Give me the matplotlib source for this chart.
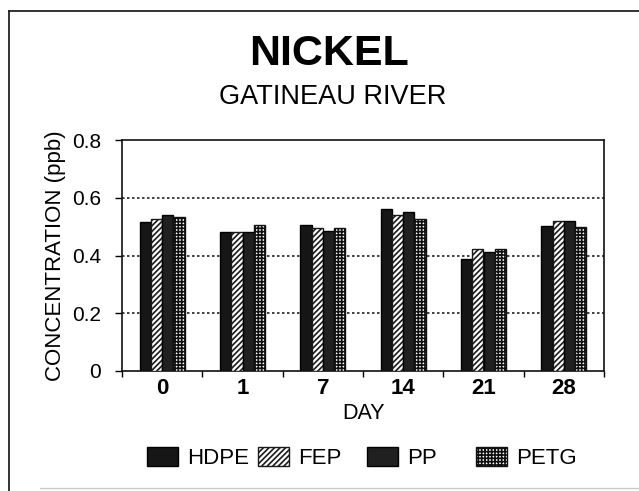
import matplotlib
matplotlib.use("Agg")
import matplotlib.pyplot as plt
import numpy as np
from matplotlib.lines import Line2D

plt.rcParams['font.family'] = ['Liberation Sans', 'DejaVu Sans']
plt.rcParams['hatch.linewidth'] = 1.2

days = ["0", "1", "7", "14", "21", "28"]
hdpe = [0.517, 0.480, 0.506, 0.560, 0.387, 0.502]
fep = [0.526, 0.480, 0.494, 0.540, 0.422, 0.520]
pp = [0.540, 0.480, 0.485, 0.550, 0.413, 0.520]
petg = [0.533, 0.506, 0.494, 0.525, 0.424, 0.500]
series_names = ["HDPE", "FEP", "PP", "PETG"]
yticks = [0, 0.2, 0.4, 0.6, 0.8]
ytick_labels = ["0", "0.2", "0.4", "0.6", "0.8"]

styles = [
    dict(facecolor="#161616", edgecolor="black", hatch=None),
    dict(facecolor="white", edgecolor="#1a1a1a", hatch="//////"),
    dict(facecolor="#202020", edgecolor="black", hatch=None),
    dict(facecolor="white", edgecolor="#111111", hatch="+++++"),
]

fig = plt.figure(figsize=(6.39, 4.91), dpi=100)
ax = fig.add_axes([122/639, 1-371/491, (604-122)/639, (371-140)/491])

x = np.arange(len(days))
w = 0.14
offsets = [-1.5*w, -0.5*w, 0.5*w, 1.5*w]
handles = []
for vals, off, st, name in zip([hdpe, fep, pp, petg], offsets, styles, series_names):
    bars = ax.bar(x + off, vals, width=w, facecolor=st["facecolor"],
                  edgecolor=st["edgecolor"], hatch=st["hatch"], linewidth=1.0,
                  zorder=3, label=name)
    handles.append(bars)

ax.set_xlim(-0.5, len(days) - 0.5)
ax.set_ylim(0, 0.8)
ax.set_yticks(yticks)
ax.set_yticklabels(ytick_labels, fontsize=15)
ax.set_xticks(x)
ax.set_xticklabels(days, fontsize=16, fontweight="bold")
ax.set_xticks(np.arange(len(days) + 1) - 0.5, minor=True)
ax.tick_params(axis="x", which="major", length=0, pad=5)
ax.tick_params(axis="x", which="minor", length=4, direction="out", width=1)
ax.tick_params(axis="y", which="major", length=5, direction="out", width=1, pad=10)
for yv in yticks[1:-1]:
    ax.axhline(yv, color="#222222", linestyle=(0, (1.5, 1.5)), linewidth=1.2, zorder=1)
for s in ax.spines.values():
    s.set_linewidth(1.2)
    s.set_color("#111111")

ax.set_xlabel("DAY", fontsize=15.5, labelpad=3)
ax.set_ylabel("CONCENTRATION (ppb)", fontsize=16)
ax.yaxis.set_label_coords(-0.117, 0.5)

fig.text(0.515, 1-54/491, "NICKEL", fontsize=31, fontweight="bold",
         ha="center", va="center")
fig.text(0.52, 1-97/491, "GATINEAU RIVER", fontsize=19.5, ha="center", va="center")

# Legend entries placed at evenly spaced columns
col_x = [148, 259, 368, 477]
for h, name, cx in zip(handles, series_names, col_x):
    fig.legend([h], [name], loc="center left",
               bbox_to_anchor=(cx/639 - 0.026, 1-458/491),
               frameon=False, fontsize=16, handlelength=1.4,
               handleheight=0.9, handletextpad=0.4, borderpad=0.2)

# Outer frame
fig.add_artist(Line2D([9/639, 1], [1-11/491, 1-11/491], color="#222222", lw=1.3))
fig.add_artist(Line2D([9/639, 9/639], [0, 1-11/491], color="#222222", lw=1.3))
fig.add_artist(Line2D([40/639, 1], [1-488/491, 1-488/491], color="#cccccc", lw=1.0))

fig.savefig("out.png", dpi=100)
